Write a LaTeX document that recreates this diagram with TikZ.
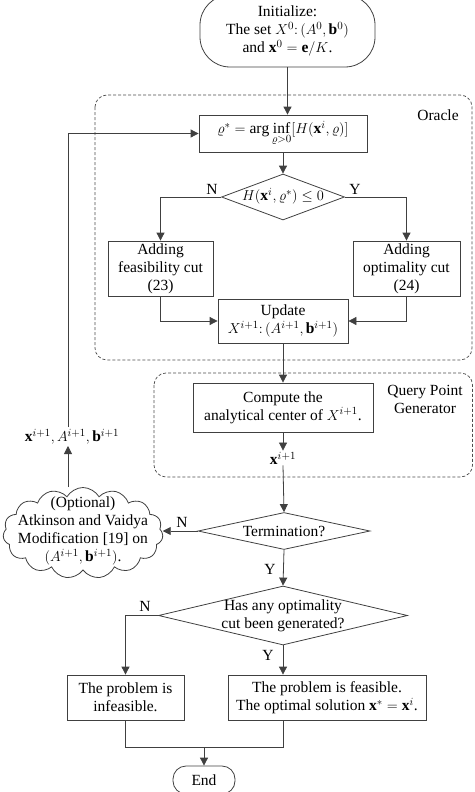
\documentclass[tikz,border=0pt]{standalone}
\usepackage{fontspec}
\setmainfont{Liberation Serif}
\usetikzlibrary{shapes.geometric,shapes.symbols,arrows.meta}
\begin{document}
\begin{tikzpicture}[x=1pt,y=-1pt,
  every node/.style={font=\fontsize{15.5}{18}\selectfont, text=black},
  ln/.style={draw=black!75, line width=0.8pt},
  arr/.style={ln, -{Triangle[length=8pt,width=8pt]}},
  box/.style={ln, rectangle, align=center, inner sep=0pt},
  dia/.style={ln, diamond, inner sep=0pt},
  txt/.style={align=center, inner sep=1pt},
  grp/.style={draw=black!70, line width=0.7pt, dash pattern=on 3pt off 2pt, rounded corners=12pt}]
\useasboundingbox (0,0) rectangle (474,792);

% groups
\draw[grp] (95,95) rectangle (472,360);
\draw[grp] (154,373) rectangle (472.5,477);
\node[txt] (oracle) at (438,115) {Oracle};
\node[txt] (qpg) at (425,399) {Query Point\\Generator};

% start
\node[ln, rounded corners=30pt, minimum width=175pt, minimum height=72pt, align=center, inner sep=0pt] (init) at (287.5,31) {Initialize:\\The set $X^0{:}\,(A^0,\mathbf{b}^0)$\\and $\mathbf{x}^0=\mathbf{e}/K$.};

\node[box, minimum width=168pt, minimum height=37pt] (rho) at (283,133.5) {$\varrho^*=\arg\inf\limits_{\varrho>0}[H(\mathbf{x}^i,\varrho)]$};

\node[dia, minimum width=123pt, minimum height=46pt] (d1) at (283,197) {};
\node[txt] (d1t) at (283,196) {$H(\mathbf{x}^i,\varrho^*)\le 0$};

\node[box, minimum width=105pt, minimum height=55pt] (feas) at (160.5,268.5) {Adding\\feasibility cut\\(23)};
\node[box, minimum width=107pt, minimum height=55pt] (opt) at (406.5,268.5) {Adding\\optimality cut\\(24)};
\node[box, minimum width=130pt, minimum height=44pt] (upd) at (283,321) {Update\\$X^{i+1}{:}\,(A^{i+1},\mathbf{b}^{i+1})$};

\node[box, minimum width=180pt, minimum height=49pt] (comp) at (283,407.5) {Compute the\\analytical center of $X^{i+1}$.};
\node[txt] (xl) at (283,458) {$\mathbf{x}^{i+1}$};

\node[dia, minimum width=172pt, minimum height=37pt] (d2) at (284,531) {};
\node[txt] (d2t) at (284,531) {Termination?};

\node[ln, cloud, cloud puffs=15, cloud puff arc=120, aspect=1.76, minimum width=160pt, minimum height=91pt, inner sep=0pt] (cloud) at (83,533) {};
\node[txt] (cloudt) at (83,531) {(Optional)\\Atkinson and Vaidya\\Modification [19] on\\$(A^{i+1},\mathbf{b}^{i+1})$.};

\node[txt] (fb) at (72,437) {$\mathbf{x}^{i+1}, A^{i+1}, \mathbf{b}^{i+1}$};

\node[dia, minimum width=249pt, minimum height=59pt] (d3) at (283,615.5) {};
\node[txt] (d3t) at (283,615.5) {Has any optimality\\cut been generated?};

\node[box, minimum width=117pt, minimum height=45pt] (inf) at (125.5,697.5) {The problem is\\infeasible.};
\node[box, minimum width=198pt, minimum height=45pt] (fin) at (327,697.5) {The problem is feasible.\\The optimal solution $\mathbf{x}^*=\mathbf{x}^i$.};

\node[ln, rounded corners=13pt, minimum width=62pt, minimum height=28pt, inner sep=0pt] (end) at (204,780) {End};

% labels
\node[txt] (n1) at (212,189) {N};
\node[txt] (y1) at (355,189) {Y};
\node[txt] (n2) at (182,522) {N};
\node[txt] (y2) at (270,569) {Y};
\node[txt] (n3) at (145,606) {N};
\node[txt] (y3) at (268,655) {Y};

% connectors
\draw[arr] (init.south) -- (init.south |- rho.north);
\draw[arr] (rho.south) -- (d1.north);
\draw[arr] (d1.west) -| (feas.north);
\draw[arr] (d1.east) -| (opt.north);
\draw[arr] (feas.south) |- (upd.west);
\draw[arr] (opt.south) |- (upd.east);
\draw[arr] (upd.south) -- (comp.north);
\draw[arr] (comp.south) -- (xl.north);
\draw[arr] (xl.south) -- (d2.north);
\draw[arr] (d2.west) -- (d2.west -| cloud.east);
\coordinate (ctop) at (68,487);
\coordinate (fbb) at (68,446);
\coordinate (fbt) at (68,427);
\draw[arr] (ctop) -- (fbb);
\draw[arr] (fbt) |- (rho.west);
\draw[arr] (d2.south) -- (d3.north);
\draw[arr] (d3.west) -| (inf.north);
\draw[arr] (d3.south) -- (d3.south |- fin.north);
\coordinate (j) at (204,747);
\draw[ln] (inf.south) |- (j);
\draw[ln] (d3.south |- fin.south) |- (j);
\draw[arr] (j) -- (end.north);
\end{tikzpicture}
\end{document}
